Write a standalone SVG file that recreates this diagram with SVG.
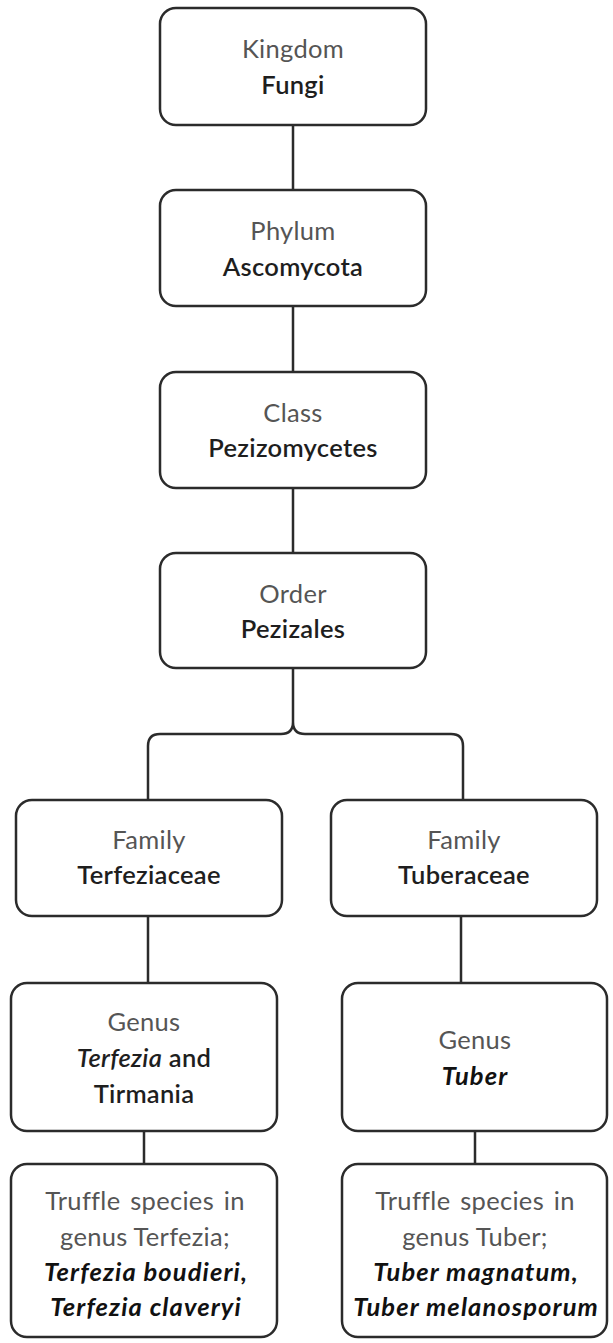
<svg xmlns="http://www.w3.org/2000/svg" width="613" height="1343" viewBox="0 0 613 1343">
<style>
.box{fill:#fff;stroke:#2b2b2b;stroke-width:2.5}
.ln{fill:none;stroke:#2b2b2b;stroke-width:2.5}
text{font-family:Lato,"Open Sans","Liberation Sans",sans-serif;font-size:25.5px;text-anchor:middle;letter-spacing:0.3px}
.t{fill:#555}
.s{word-spacing:3px}
.b{fill:#1e1e1e;font-weight:600}
.i{font-style:italic}
.bi{fill:#111;font-weight:700;font-style:italic;letter-spacing:1.1px}
</style>
<rect width="613" height="1343" fill="#fff"/>
<g id="connectors">
<path class="ln" d="M293 125V190M293 306V372M293 488V553"/>
<path class="ln" d="M293 668V722Q293 734 281 734H160Q148 734 148 746V800M293 722Q293 734 305 734H451Q463 734 463 746V800"/>
<path class="ln" d="M148 916V983M461 916V983M144 1131V1164M475 1131V1164"/>
</g>
<g id="kingdom"><rect class="box" x="160" y="8" width="266" height="117" rx="16"/><text class="t" x="293" y="58">Kingdom</text><text class="b" x="293" y="94">Fungi</text></g>
<g id="phylum"><rect class="box" x="160" y="190" width="266" height="116" rx="16"/><text class="t" x="293" y="240">Phylum</text><text class="b" x="293" y="276">Ascomycota</text></g>
<g id="class"><rect class="box" x="160" y="372" width="266" height="116" rx="16"/><text class="t" x="293" y="422">Class</text><text class="b" x="293" y="457">Pezizomycetes</text></g>
<g id="order"><rect class="box" x="160" y="553" width="266" height="115" rx="16"/><text class="t" x="293" y="603">Order</text><text class="b" x="293" y="638">Pezizales</text></g>
<g id="family-terfeziaceae"><rect class="box" x="16" y="800" width="266" height="116" rx="16"/><text class="t" x="149" y="849">Family</text><text class="b" x="149" y="884">Terfeziaceae</text></g>
<g id="family-tuberaceae"><rect class="box" x="331" y="800" width="266" height="116" rx="16"/><text class="t" x="464" y="849">Family</text><text class="b" x="464" y="884">Tuberaceae</text></g>
<g id="genus-terfezia"><rect class="box" x="11" y="983" width="266" height="148" rx="16"/><text class="t" x="144" y="1031">Genus</text><text class="b" x="144" y="1067"><tspan class="i">Terfezia</tspan> and</text><text class="b" x="144" y="1103">Tirmania</text></g>
<g id="genus-tuber"><rect class="box" x="342" y="983" width="265" height="148" rx="16"/><text class="t" x="475" y="1049">Genus</text><text class="bi" x="475" y="1085">Tuber</text></g>
<g id="species-terfezia"><rect class="box" x="11" y="1164" width="266" height="173" rx="16"/><text class="t s" x="145" y="1210">Truffle species in</text><text class="t" x="145" y="1246">genus Terfezia;</text><text class="bi" x="146" y="1281">Terfezia boudieri,</text><text class="bi" x="146" y="1316">Terfezia claveryi</text></g>
<g id="species-tuber"><rect class="box" x="342" y="1164" width="265" height="173" rx="16"/><text class="t s" x="475" y="1210">Truffle species in</text><text class="t" x="475" y="1246">genus Tuber;</text><text class="bi" x="476" y="1281">Tuber magnatum,</text><text class="bi" x="476" y="1316">Tuber melanosporum</text></g>
</svg>
